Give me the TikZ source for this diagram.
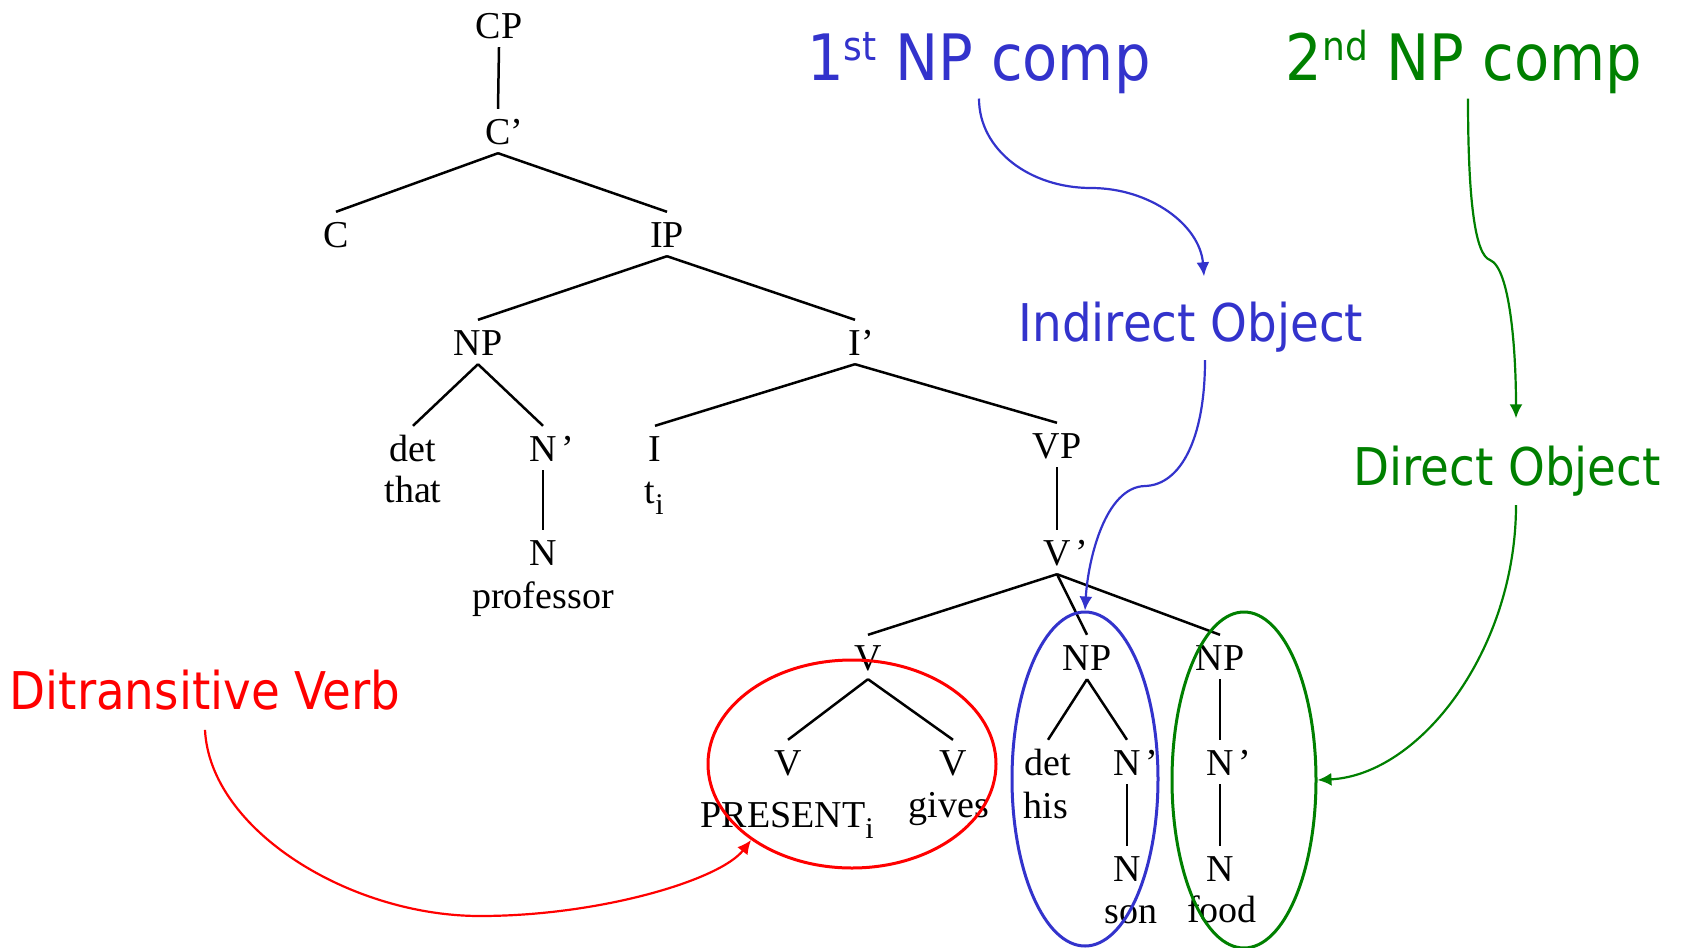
\documentclass[tikz,border=0pt]{standalone}
\usepackage{fontspec}
\usetikzlibrary{shapes.geometric,arrows.meta,calc}
\newfontfamily\treefont{Liberation Serif}
\newfontfamily\labfont{DejaVu Sans Condensed}
\definecolor{myblue}{HTML}{3333CC}
\definecolor{mygreen}{HTML}{008000}
\definecolor{myred}{HTML}{FF0000}
\newcommand{\subi}{\rlap{\raisebox{-11pt}{\fontsize{30}{30}\selectfont i}}}
\newcommand{\pr}{\rlap{’}}
\newcommand{\spr}{\rlap{\hspace{5pt}’}}
\newcommand{\sups}[1]{\raisebox{20pt}{\fontsize{40}{40}\selectfont #1}}
\begin{document}
\begin{tikzpicture}[x=1pt,y=-1pt,
  cat/.style={font=\treefont\fontsize{38}{40}\selectfont, inner xsep=1pt, inner ysep=9pt, text height=26pt, text depth=0pt},
  word/.style={font=\treefont\fontsize{38}{40}\selectfont, inner sep=0pt, anchor=base},
  br/.style={line width=2.5pt, black},
  lab/.style={font=\labfont\fontsize{52}{56}\selectfont, inner sep=0pt, anchor=base},
  big/.style={font=\labfont\fontsize{64}{68}\selectfont, inner sep=0pt, anchor=base},
  ell/.style={draw, ellipse, inner sep=0pt, line width=3pt},
  arr/.style={line width=2.2pt, -{Latex[length=14pt,width=13pt]}},
]
\fill[white] (0,0) rectangle (1682,948);
\useasboundingbox (0,0) rectangle (1682,948);

% tree categories
\node[cat] (cp) at (499,25) {CP};
\node[cat] (cbar) at (498,131) {C\pr};
\node[cat] (c) at (336,234) {C};
\node[cat] (ip) at (667,234) {IP};
\node[cat] (np) at (478,342) {NP};
\node[cat] (ibar) at (855,342) {I\pr};
\node[cat] (det) at (413,448) {det};
\node[cat] (nbar) at (543,448) {N\spr};
\node[cat] (n) at (543,552) {N};
\node[cat] (i) at (655,448) {I};
\node[cat] (vp) at (1057,445) {VP};
\node[cat] (vbar) at (1057,552) {V\spr};
\node[cat] (v) at (868,657) {V};
\node[cat] (np1) at (1087,657) {NP};
\node[cat] (np2) at (1220,657) {NP};
\node[cat] (v1) at (788,762) {V};
\node[cat] (v2) at (953,762) {V};
\node[cat] (det2) at (1048,762) {det};
\node[cat] (nbar2) at (1127,762) {N\spr};
\node[cat] (n2) at (1127,868) {N};
\node[cat] (nbar3) at (1220,762) {N\spr};
\node[cat] (n3) at (1220,868) {N};

% words
\node[word] (that) at (413,502) {that};
\node[word] (prof) at (543,608) {professor};
\node[word] (ti) at (650,503) {t\subi};
\node[word] (present) at (783,827) {PRESENT\subi};
\node[word] (gives) at (949,817) {gives};
\node[word] (his) at (1046,818) {his};
\node[word] (son) at (1131,923) {son};
\node[word] (food) at (1222,922) {food};

% branches
\draw[br] (cp.south) -- (cbar.north);
\draw[br] (cbar.south) -- (c.north);
\draw[br] (cbar.south) -- (ip.north);
\draw[br] (ip.south) -- (np.north);
\draw[br] (ip.south) -- (ibar.north);
\draw[br] (np.south) -- (det.north);
\draw[br] (np.south) -- (nbar.north);
\draw[br] (nbar.south) -- (n.north);
\draw[br] (ibar.south) -- (i.north);
\draw[br] (ibar.south) -- (vp.north);
\draw[br] (vp.south) -- (vbar.north);
\draw[br] (vbar.south) -- (v.north);
\draw[br] (vbar.south) -- (np1.north);
\draw[br] (vbar.south) -- (np2.north);
\draw[br] (v.south) -- (v1.north);
\draw[br] (v.south) -- (v2.north);
\draw[br] (np1.south) -- (det2.north);
\draw[br] (np1.south) -- (nbar2.north);
\draw[br] (nbar2.south) -- (n2.north);
\draw[br] (np2.south) -- (nbar3.north);
\draw[br] (nbar3.south) -- (n3.north);

% ellipses
\node[ell, draw=myred, minimum width=288pt, minimum height=208pt] (redell) at (852,764) {};
\node[ell, draw=myblue, minimum width=146pt, minimum height=334pt] (blueell) at (1085,779) {};
\node[ell, draw=mygreen, minimum width=144pt, minimum height=336pt] (greenell) at (1244,780) {};

% labels
\node[big, text=myblue] (first) at (979,80) {1\sups{st} NP comp};
\node[big, text=mygreen] (second) at (1464,80) {2\sups{nd} NP comp};
\node[lab, text=myblue] (io) at (1191,341) {Indirect Object};
\node[lab, text=mygreen] (dobj) at (1507,485) {Direct Object};
\node[lab, text=myred] (ditr) at (205,709) {Ditransitive Verb};

% arrows
\draw[arr, myblue] ([yshift=-5pt]first.south) .. controls (979,150) and (1030,188) .. (1091,188)
  .. controls (1150,188) and (1200,225) .. ([xshift=13pt,yshift=25pt]io.north);
\draw[arr, myblue] ([xshift=14pt,yshift=-8pt]io.south) .. controls (1205,440) and (1180,485) .. (1145,486)
  .. controls (1105,487) and (1088,560) .. (blueell.north);
\draw[arr, mygreen] ([xshift=4pt,yshift=-5pt]second.south) .. controls (1468,200) and (1475,255) .. (1490,260)
  .. controls (1510,268) and (1516,350) .. ([xshift=9pt,yshift=27pt]dobj.north);
\draw[arr, mygreen] ([xshift=9pt,yshift=-9pt]dobj.south) .. controls (1516,650) and (1420,775) .. (greenell.east);
\draw[arr, myred] ([yshift=-20pt]ditr.south) .. controls (210,830) and (350,916) .. (480,916)
  .. controls (600,916) and (720,880) .. (redell.217);
\end{tikzpicture}
\end{document}
